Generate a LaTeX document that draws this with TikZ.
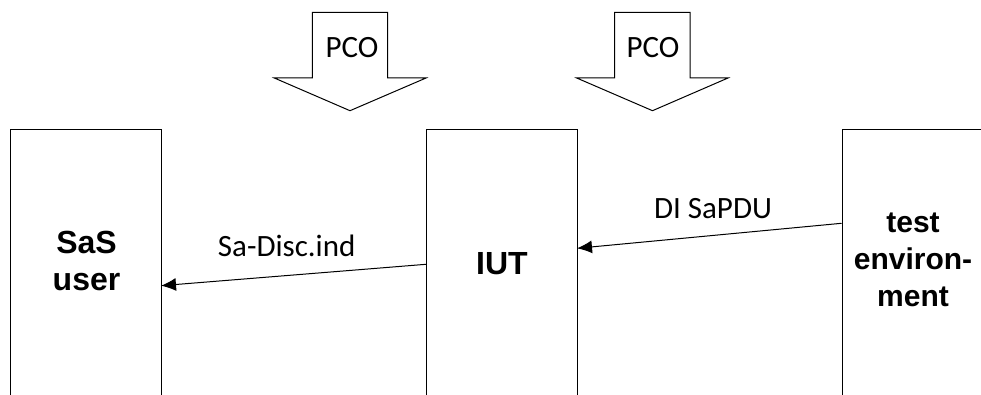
\documentclass[tikz,border=0pt]{standalone}
\usepackage{fontspec}
\usetikzlibrary{arrows.meta}
\newfontfamily\labfont{Carlito}
\newfontfamily\boxfont{Liberation Sans}
\begin{document}
\begin{tikzpicture}[x=1pt,y=-1pt,
  line width=1pt,
  entity/.style={draw=black,line width=1pt,minimum width=151pt,minimum height=300pt,anchor=north west,inner sep=0pt},
  pcoarrow/.style={draw=black,line width=1pt,fill=white,line join=miter},
  lab/.style={font=\labfont\fontsize{31}{37}\selectfont,inner sep=0pt,anchor=base},
  boxlab/.style={font=\boxfont\bfseries\fontsize{32}{37}\selectfont,inner sep=0pt,align=center},
  msg/.style={-{Latex[length=15pt,width=13pt]},line width=1pt}]
\useasboundingbox (0,0) rectangle (981,395);
\clip (0,0) rectangle (981,395);
% entities
\node[entity] (user) at (10,129) {};
\node[entity] (iut) at (426,129) {};
\node[entity] (env) at (841.5,129) {};
% PCO arrows
\draw[pcoarrow] (312.3,12.3) -- (387.7,12.3) -- (387.7,78) -- (426,78) -- (350,110.7) -- (274.3,78) -- (312.3,78) -- cycle;
\draw[pcoarrow] (614.5,12.3) -- (690,12.3) -- (690,78) -- (728,78) -- (652.5,110.7) -- (576.7,78) -- (614.5,78) -- cycle;
\node[lab] (pco1) at (352,57.3) {PCO};
\node[lab] (pco2) at (653,57.3) {PCO};
% texts in boxes
\node[boxlab] (tuser) at (86.5,261) {SaS\\user};
\node[boxlab,anchor=base] (tiut) at (502,274) {IUT};
\node[boxlab,font=\boxfont\bfseries\fontsize{30}{36.7}\selectfont] (tenv) at (913,260) {test\\environ-\\ment};
% connector end points on box borders
\coordinate (iutW) at (426,264.3);
\coordinate (userE) at (161,285.7);
\coordinate (envW) at (841.5,223.3);
\coordinate (iutE) at (577,248.3);
\draw[msg] (iutW) -- (userE);
\draw[msg] (envW) -- (iutE);
\node[lab] (m1) at (286.7,256.7) {Sa-Disc.ind};
\node[lab] (m2) at (713,218.3) {DI SaPDU};
\end{tikzpicture}
\end{document}
